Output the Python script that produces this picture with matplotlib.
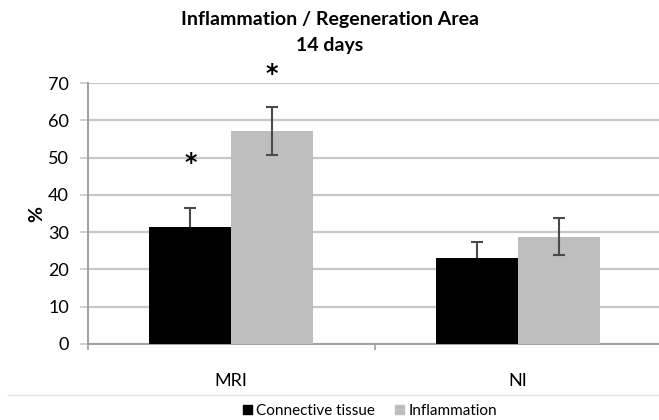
import numpy as np
import matplotlib.pyplot as plt
from matplotlib.lines import Line2D

plt.rcParams['font.family'] = ['Lato', 'DejaVu Sans']

# data
groups = ["MRI", "NI"]
connective = [31.4, 23.0]
connective_err = [5.2, 4.3]
inflammation = [57.2, 28.8]
inflammation_err = [6.4, 5.0]
star_levels = [48.5, 72.3]   # asterisks over the MRI bars
y_ticks = [0, 10, 20, 30, 40, 50, 60, 70]

fig = plt.figure(figsize=(6.59, 4.20), dpi=100)
ax = fig.add_axes([88 / 659, 1 - 344 / 420, 573 / 659, 261 / 420])

x = np.arange(len(groups))
w = 0.286
grid_col = '#c8c8c8'
err_col = '#4a4a4a'

ax.bar(x - w / 2, connective, w, color='black', zorder=3)
ax.bar(x + w / 2, inflammation, w, color='#bebebe', zorder=3)
# lower half of the black bars' error bars sits hidden behind the bar
ax.errorbar(x - w / 2, connective, yerr=connective_err, fmt='none', ecolor=err_col,
            elinewidth=1.5, capsize=4, capthick=1.5, zorder=2)
ax.errorbar(x + w / 2, inflammation, yerr=inflammation_err, fmt='none', ecolor=err_col,
            elinewidth=1.5, capsize=4, capthick=1.5, zorder=4)

ax.text(x[0] - w / 2, star_levels[0], "*", ha='center', va='center', fontsize=17,
        fontweight='bold', family='DejaVu Sans', clip_on=False)
ax.text(x[0] + w / 2, star_levels[1], "*", ha='center', va='center', fontsize=17,
        fontweight='bold', family='DejaVu Sans', clip_on=False)

ax.set_xlim(-0.5, 1.5)
ax.set_ylim(0, 70)
ax.set_yticks(y_ticks)
ax.set_yticklabels([str(t) for t in y_ticks], fontsize=13)
ax.yaxis.grid(True, color=grid_col, linewidth=1.6, zorder=0)
ax.set_axisbelow(True)
ax.tick_params(axis='y', length=5.8, width=1.2, color=grid_col, pad=8)

# category labels centred, tick marks at group boundaries
ax.set_xticks([-0.5, 0.5, 1.5])
ax.set_xticklabels([])
ax.set_xticks(x, minor=True)
ax.set_xticklabels(groups, minor=True, fontsize=13)
ax.tick_params(axis='x', which='major', length=4, width=1.2, color='#a0a0a0')
ax.tick_params(axis='x', which='minor', length=0, pad=21)

for s in ['top', 'right']:
    ax.spines[s].set_visible(False)
ax.spines['left'].set_color('#a0a0a0')
ax.spines['bottom'].set_color('#a0a0a0')
ax.spines['left'].set_linewidth(1.4)
ax.spines['bottom'].set_linewidth(1.4)

ax.set_ylabel("%", fontsize=14, fontweight='bold', labelpad=2)

fig.text(330 / 659, 1 - 20 / 420, "Inflammation / Regeneration Area", ha='center',
         va='center', fontsize=14, fontweight='bold')
fig.text(330 / 659, 1 - 45 / 420, "14 days", ha='center', va='center',
         fontsize=14, fontweight='bold')

# thin separator above legend
fig.add_artist(Line2D([8 / 659, 1.0], [1 - 395 / 420] * 2, color='#e2e2e2', linewidth=1))

handles = [plt.Rectangle((0, 0), 1, 1, color='black'),
           plt.Rectangle((0, 0), 1, 1, color='#bebebe')]
fig.legend(handles, ["Connective tissue", "Inflammation"], loc='center',
           bbox_to_anchor=(370 / 659, 1 - 411 / 420), ncol=2, frameon=False,
           fontsize=11, handlelength=0.6, handleheight=0.6, handletextpad=0.3,
           columnspacing=1.3)

fig.savefig("out.png", dpi=100)
